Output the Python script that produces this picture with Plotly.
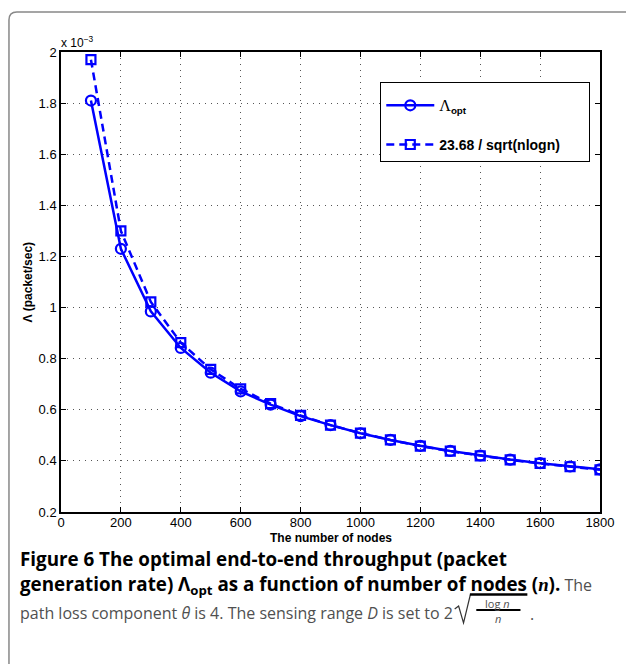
import plotly.graph_objects as go

# ---------------- data (values in units of 1e-3) ----------------
nodes = [100, 200, 300, 400, 500, 600, 700, 800, 900, 1000,
         1100, 1200, 1300, 1400, 1500, 1600, 1700, 1800]
lambda_opt = [1.81, 1.23, 0.985, 0.842, 0.745, 0.672, 0.620, 0.575, 0.540, 0.508,
              0.482, 0.459, 0.439, 0.421, 0.405, 0.391, 0.378, 0.367]
approx = [1.97, 1.30, 1.022, 0.863, 0.758, 0.682, 0.624, 0.578, 0.540, 0.509,
          0.482, 0.458, 0.438, 0.420, 0.404, 0.390, 0.377, 0.365]
x_ticks = [0, 200, 400, 600, 800, 1000, 1200, 1400, 1600, 1800]
y_ticks = [0.2, 0.4, 0.6, 0.8, 1.0, 1.2, 1.4, 1.6, 1.8, 2.0]
y_tick_text = ["0.2", "0.4", "0.6", "0.8", "1", "1.2", "1.4", "1.6", "1.8", "2"]
name_opt = "<span style='font-family:Liberation Serif;font-size:16px'>Λ</span><sub><b>opt</b></sub>"
name_approx = "<b>23.68 / sqrt(nlogn)</b>" + "\u00a0" * 6

# ---------------- layout geometry (pixels) ----------------
W, H = 626, 664
L, R, T, B = 61, 610, 52, 512


def px(x):
    return (x - L) / (R - L)


def py(y):
    return (B - y) / (B - T)


BLUE = "#0000ff"
AXFONT = "Liberation Sans"
CAPFONT = "Open Sans"
GRAY = "#505050"
DY = 3  # vertical shift of the caption block

fig = go.Figure()
fig.add_trace(go.Scatter(
    x=nodes, y=lambda_opt, mode="lines+markers", name=name_opt,
    line=dict(color=BLUE, width=2.5),
    marker=dict(symbol="circle-open", size=10, color=BLUE, line=dict(width=2.2, color=BLUE)),
    legendgroup="a",
))
fig.add_trace(go.Scatter(
    x=nodes, y=approx, mode="lines+markers", name=name_approx,
    line=dict(color=BLUE, width=2.5, dash="8px,5px"),
    marker=dict(symbol="square-open", size=9, color=BLUE, line=dict(width=2.2, color=BLUE)),
    legendgroup="b",
))

axis_common = dict(
    showline=True, linecolor="black", linewidth=1.5, mirror="allticks",
    ticks="inside", ticklen=5, tickcolor="black", tickwidth=1,
    showgrid=True, gridcolor="#555", gridwidth=1, griddash="1px,5px",
    zeroline=False, tickfont=dict(family=AXFONT, size=13, color="black"),
)

fig.update_xaxes(range=[0, 1800], tickvals=x_ticks, ticklabelstandoff=-2, **axis_common)
fig.update_yaxes(range=[0.2, 2.0], tickvals=y_ticks, ticktext=y_tick_text, **axis_common)

fig.update_layout(
    width=W, height=H,
    margin=dict(l=L, r=W - R, t=T, b=H - B),
    paper_bgcolor="white", plot_bgcolor="white",
    showlegend=True,
    legend=dict(
        x=px(386), y=py(82), xanchor="left", yanchor="top",
        bgcolor="white", bordercolor="black", borderwidth=1.2,
        font=dict(family=AXFONT, size=14, color="black"),
        tracegroupgap=18, itemwidth=48,
        title=dict(text="\u00a0", font=dict(size=5)),
    ),
)

annotations = []
# exponent label
annotations.append(dict(
    x=px(59), y=py(42), xref="paper", yref="paper", xanchor="left", yanchor="middle",
    text="x 10<sup>−3</sup>", showarrow=False,
    font=dict(family=AXFONT, size=12, color="black"),
))
# axis titles
annotations.append(dict(
    x=px(335.5), y=py(538), xref="paper", yref="paper", xanchor="center", yanchor="middle",
    text="<b>The number of nodes</b>", showarrow=False,
    font=dict(family=AXFONT, size=12, color="black"),
))
annotations.append(dict(
    x=px(27), y=py(282), xref="paper", yref="paper", xanchor="center", yanchor="middle",
    text="<b>Λ (packet/sec)</b>", showarrow=False, textangle=-90,
    font=dict(family=AXFONT, size=12, color="black"),
))

# caption
NB = "font-size:18.8px"
NR = f"color:{GRAY};font-size:16px"
cap = [
    (556, f"<span style='{NB}'><b>Figure 6 The optimal end-to-end throughput (packet</b></span>"),
    (582, f"<span style='{NB}'><b>generation rate) Λ<sub>opt</sub> as a function of number of nodes "
          f"(<span style='font-family:Liberation Serif'><i>n</i></span>).</b></span>"
          f"<span style='{NR}'> The</span>"),
    (610, f"<span style='{NR}'>path loss component <i>θ</i> is 4. The sensing range <i>D</i> is set to 2</span>"),
]
for yy, txt in cap:
    annotations.append(dict(
        x=px(17), y=py(yy + DY), xref="paper", yref="paper", xanchor="left", yanchor="middle",
        text=txt, showarrow=False, align="left",
        font=dict(family=CAPFONT, size=17, color="black"),
    ))
# fraction under the square root
annotations.append(dict(x=px(506), y=py(600 + DY), xref="paper", yref="paper", xanchor="center",
                        yanchor="middle", text="log <i>n</i>", showarrow=False,
                        font=dict(family=CAPFONT, size=11, color=GRAY)))
annotations.append(dict(x=px(506), y=py(615 + DY), xref="paper", yref="paper", xanchor="center",
                        yanchor="middle", text="<i>n</i>", showarrow=False,
                        font=dict(family=CAPFONT, size=11, color=GRAY)))
annotations.append(dict(x=px(541), y=py(611 + DY), xref="paper", yref="paper", xanchor="center",
                        yanchor="middle", text=".", showarrow=False,
                        font=dict(family=CAPFONT, size=16, color=GRAY)))
fig.update_layout(annotations=annotations)


def pth(points):
    return "M " + " L ".join(f"{px(a):.5f},{py(b + DY):.5f}" for a, b in points)


shapes = []
# outer rounded frame
frame = (f"M {px(8):.5f},{py(700):.5f} L {px(8):.5f},{py(20):.5f} "
         f"Q {px(8):.5f},{py(12):.5f} {px(16):.5f},{py(12):.5f} L {px(640):.5f},{py(12):.5f}")
shapes.append(dict(type="path", xref="paper", yref="paper", path=frame,
                   line=dict(color="#888", width=1.5)))
# radical sign
shapes.append(dict(type="path", xref="paper", yref="paper",
                   path=pth([(462, 606), (466, 603), (471, 620), (478, 591.5)]),
                   line=dict(color="#333", width=1.2)))
# overline (vinculum)
shapes.append(dict(type="line", xref="paper", yref="paper",
                   x0=px(477.5), x1=px(536), y0=py(591.5 + DY), y1=py(591.5 + DY),
                   line=dict(color="black", width=2.5)))
# fraction bar
shapes.append(dict(type="line", xref="paper", yref="paper",
                   x0=px(484), x1=px(529), y0=py(607 + DY), y1=py(607 + DY),
                   line=dict(color="black", width=2)))
fig.update_layout(shapes=shapes)

fig.write_html("out.html")
